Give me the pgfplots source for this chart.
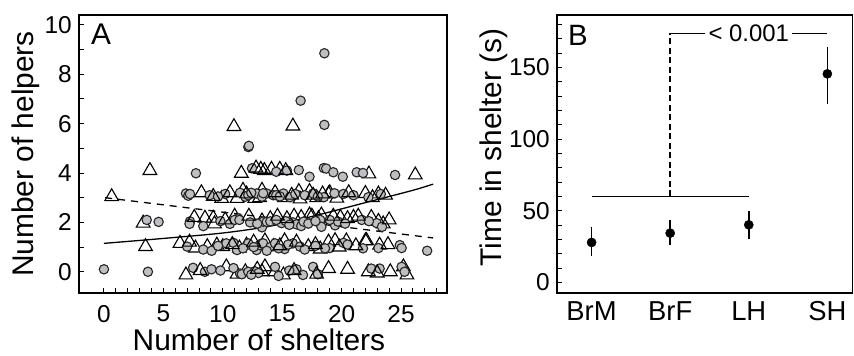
\documentclass[border=0pt]{standalone}
\usepackage{fontspec}
\setmainfont{Liberation Sans}
\usepackage{pgfplots}
\pgfplotsset{compat=1.18}
\definecolor{ptgray}{HTML}{BFBFC1}
\definecolor{ptedge}{HTML}{262626}
\pgfplotsset{
  myaxis/.style={
    scale only axis,
    axis line style={line width=1.7bp, black},
    tick align=inside,
    xtick pos=left, ytick pos=left,
    major tick length=5bp, minor tick length=5bp,
    tick style={black, line width=1bp},
    /pgf/number format/assume math mode=true,
    tick label style={font=\fontsize{24.5}{28}\selectfont, inner sep=0pt},
    yticklabel style={anchor=east, xshift=-7bp},
    label style={font=\fontsize{30}{34}\selectfont},
  }
}
\pgfplotstableread{
x y
0 0.1
3.7 0.0
3.6 2.1
4.6 2.02
7.74 3.99
6.9 3.17
7.1 3.08
7.24 3.15
7.0 1.02
7.24 2.04
7.2 1.94
8.36 1.85
8.36 0.9
9.06 0.85
7.5 0.16
8.5 0.0
9.05 0.1
10.3 1.15
10.9 1.17
11.2 0.88
10.6 1.94
11.3 2.16
11.0 2.1
11.4 2.1
10.2 3.15
11.45 3.2
11.9 3.04
12.15 3.1
11.45 -0.07
11.6 -0.1
12.15 0.0
12.7 0.02
12.15 1.15
12.85 0.88
13.1 1.08
13.3 1.15
13.3 1.8
12.85 3.17
13.3 3.04
13.7 3.17
12.46 4.19
12.15 5.05
12.2 5.1
13.4 3.18
14.25 3.1
14.5 3.1
15.1 3.17
15.65 3.02
13.4 2.03
13.7 2.02
14.0 2.04
14.95 1.97
15.9 2.0
16.2 1.92
16.6 1.85
16.8 2.03
13.4 1.15
14.0 1.0
14.4 1.15
15.2 0.92
15.9 1.15
16.5 1.02
14.4 0.2
14.7 -0.17
16.2 0.1
16.75 -0.13
17.6 0.2
16.4 4.12
17.3 3.85
16.55 6.93
17.6 3.17
18.5 3.02
18.2 2.1
18.3 1.82
19.45 1.88
19.7 2.03
19.0 0.96
20.15 1.17
18.5 4.2
18.7 4.18
19.3 4.03
20.1 3.85
18.55 5.95
18.55 8.85
19.4 3.18
20.15 3.15
21.27 4.03
21.7 2.1
22.95 1.97
23.4 1.82
22.25 3.02
22.5 0.13
23.2 0.13
23.1 0.96
24.5 3.92
24.9 1.08
25.05 0.96
25.05 0.2
25.3 0.0
27.2 0.85
10.9 0.15
13.0 -0.05
15.6 0.05
18.0 -0.1
12.4 -0.12
9.8 0.05
9.6 1.05
11.7 0.95
12.6 1.0
14.7 0.95
15.5 1.1
16.9 0.9
17.8 1.05
18.6 0.95
20.5 1.1
21.8 0.95
13.7 0.85
9.8 2.05
12.3 2.0
12.9 1.95
14.5 2.1
15.3 2.05
17.2 1.95
17.8 2.05
20.3 1.95
22.3 2.05
15.6 1.9
19.0 2.1
8.9 3.1
9.6 3.05
12.4 3.2
14.8 3.05
16.1 3.15
16.9 3.1
18.0 3.05
21.0 3.1
23.3 3.15
14.5 4.05
15.4 4.1
21.8 4.0
}\circles
\pgfplotstableread{
x y
0.65 3.04
3.3 1.97
3.5 1.02
3.87 4.1
6.4 1.15
6.9 -0.13
7.7 0.96
8.2 3.2
8.5 2.17
9.2 2.17
9.3 1.94
8.7 1.02
9.5 1.08
10.0 1.02
9.9 2.97
10.3 0.2
10.94 5.88
11.0 2.25
11.2 2.97
11.7 3.3
11.56 3.99
11.4 0.96
12.0 1.08
11.2 -0.1
11.9 0.0
12.7 2.97
13.3 3.3
13.1 3.0
13.2 4.15
13.5 4.1
14.1 4.15
14.8 4.15
13.3 2.06
14.0 2.15
13.55 1.25
14.25 1.02
13.3 0.0
13.55 0.2
14.4 0.0
15.1 -0.13
15.2 3.0
15.2 1.25
15.9 5.9
16.0 2.25
16.5 2.95
16.4 3.25
16.6 2.2
17.3 2.3
17.5 2.25
17.3 3.25
17.2 1.02
17.9 3.0
18.05 2.15
18.3 2.3
18.2 0.92
18.9 1.2
18.9 3.15
18.9 0.13
19.0 3.2
19.6 2.98
19.9 2.2
19.45 1.26
20.4 1.25
21.0 2.2
22.0 3.17
22.3 3.96
22.5 2.2
22.0 1.25
22.1 1.26
22.25 0.0
23.1 3.15
23.1 2.04
23.5 1.94
23.2 1.08
24.1 0.0
25.2 0.2
25.5 -0.13
26.2 3.92
}\triangles
\pgfplotstableread{
x y
8.1 0.05
12.9 0.1
16.0 0.05
17.9 -0.1
20.5 0.1
23.0 -0.05
7.2 1.2
10.8 1.1
12.6 1.2
14.8 1.05
16.2 1.2
17.8 1.1
19.8 1.0
21.2 1.05
23.9 1.1
7.6 2.2
10.2 2.1
12.2 2.25
14.6 2.25
15.4 2.15
19.3 2.25
20.5 2.15
21.4 2.25
24.0 2.1
9.2 3.05
10.6 3.2
12.0 3.15
14.4 3.2
15.8 3.1
17.6 3.1
18.4 3.15
20.6 3.2
22.6 3.0
23.7 3.1
12.8 4.2
15.3 4.1
}\trianglesb
\begin{document}
\begin{tikzpicture}
\useasboundingbox (0,0) rectangle (854bp,356bp);
\begin{axis}[myaxis,
  at={(79bp,63bp)}, anchor=south west,
  width=368bp, height=278bp,
  xmin=-2.1, xmax=28.87, ymin=-0.86, ymax=10.4,
  xtick={0,5,...,25}, minor xtick={0,...,28},
  ytick={0,2,...,10}, minor ytick={1,3,...,9},
  xticklabel style={anchor=north, yshift=-12bp},
  xlabel={Number of shelters}, ylabel={Number of helpers},
  xlabel style={at={(axis description cs:0.489,-0.2075)}, anchor=base},
  ylabel style={at={(axis description cs:-0.1223,0.5)}, anchor=base},
]
\addplot[only marks, mark=triangle, mark size=7.9bp,
  mark options={draw=black, fill=white, line width=1.1bp}] table[x=x,y=y] {\triangles};
\addplot[only marks, mark=*, mark size=4.7bp,
  mark options={draw=ptedge, fill=ptgray, line width=1.1bp}] table[x=x,y=y] {\circles};
\addplot[only marks, mark=triangle, mark size=7.9bp,
  mark options={draw=black, fill=white, line width=1.1bp}] table[x=x,y=y] {\trianglesb};
\addplot[black, line width=1.3bp, smooth] coordinates {
 (0,1.15) (5,1.35) (10,1.57) (14,1.85) (18,2.3) (22,2.8) (26,3.3) (27.7,3.55)};
\addplot[black, line width=1.3bp, dash pattern=on 7bp off 6bp] coordinates {
 (0.1,3.0) (27.7,1.37)};
\node[anchor=north west, inner sep=0pt, font=\fontsize{30}{34}\selectfont,
  xshift=12bp, yshift=-9bp] at (rel axis cs:0,1) {A};
\end{axis}
\begin{axis}[myaxis,
  at={(557bp,63bp)}, anchor=south west,
  width=295.5bp, height=278bp,
  xmin=-0.44, xmax=3.32, ymin=-7.4, ymax=186.7,
  xtick={0,1,2,3}, xticklabels={BrM,BrF,LH,SH},
  x tick style={draw=none},
  xticklabel style={anchor=north, yshift=-8.5bp, font=\fontsize{27.5}{30}\selectfont},
  ytick={0,50,100,150}, minor ytick={10,20,30,40,60,70,80,90,110,120,130,140,160,170,180},
  ylabel={Time in shelter (s)},
  ylabel style={at={(axis description cs:-0.1892,0.5234)}, anchor=base},
]
\addplot[black, line width=1.3bp] coordinates {(0,60) (2,60)};
\addplot[black, line width=1.4bp, dash pattern=on 6bp off 3.5bp] coordinates {(1,60) (1,174)};
\addplot[black, line width=1.3bp] coordinates {(1,174) (3,174)};
\node[fill=white, inner sep=3.5bp, font=\fontsize{24}{28}\selectfont] at (axis cs:2,174) {< 0.001};
\addplot[only marks, mark=*, mark size=4.6bp, black,
  error bars/.cd, y dir=both, y explicit, error mark=none,
  error bar style={line width=1.6bp, black}]
  coordinates {
  (0,27.9) += (0,10.7) -= (0,9.3)
  (1,34.4) += (0,9.3) -= (0,8.1)
  (2,40.2) += (0,9.8) -= (0,9.7)
  (3,145.6) += (0,18.6) -= (0,21.2)
  };
\node[anchor=north west, inner sep=0pt, font=\fontsize{29.5}{34}\selectfont,
  xshift=11bp, yshift=-10bp] at (rel axis cs:0,1) {B};
\end{axis}
\end{tikzpicture}
\end{document}
